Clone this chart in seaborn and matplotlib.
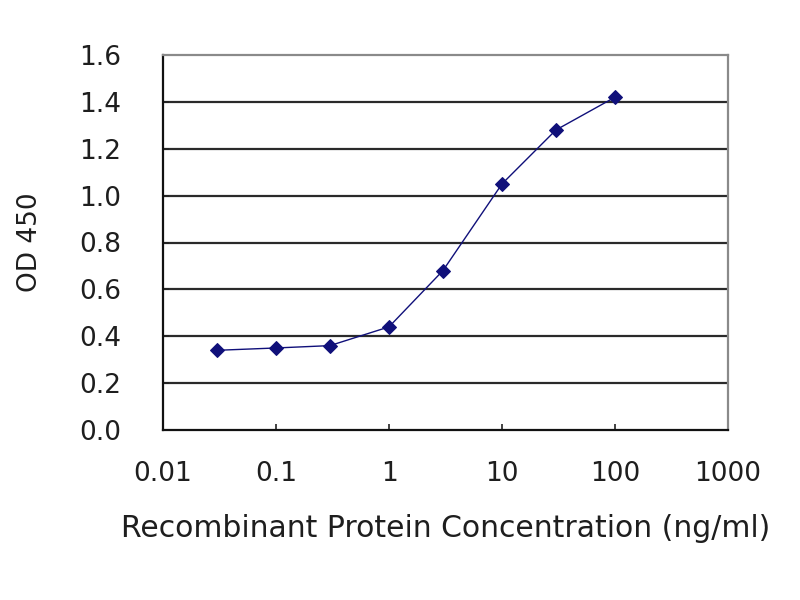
import matplotlib
matplotlib.use("Agg")
import matplotlib.pyplot as plt
import seaborn as sns
import pandas as pd
from matplotlib.ticker import FixedLocator, FixedFormatter, NullLocator

concentration = [0.03, 0.1, 0.3, 1, 3, 10, 30, 100]
od450 = [0.34, 0.35, 0.36, 0.44, 0.68, 1.05, 1.28, 1.42]
x_ticks = [0.01, 0.1, 1, 10, 100, 1000]
x_tick_labels = ["0.01", "0.1", "1", "10", "100", "1000"]
y_ticks = [0.0, 0.2, 0.4, 0.6, 0.8, 1.0, 1.2, 1.4, 1.6]
y_tick_labels = ["0.0", "0.2", "0.4", "0.6", "0.8", "1.0", "1.2", "1.4", "1.6"]

sns.set_theme(style="white")
plt.rcParams['font.family'] = ['DejaVu Sans']

df = pd.DataFrame({"conc": concentration, "od": od450})

fig = plt.figure(figsize=(8, 6), dpi=100)
ax = fig.add_axes([163/800, 1-430/600, (728-163)/800, (430-55)/600])

navy = "#10107a"
sns.lineplot(data=df, x="conc", y="od", ax=ax, color=navy, linewidth=1.0,
             marker="D", markersize=7, markeredgecolor=navy, markerfacecolor=navy)

ax.set_xscale("log")
ax.set_xlim(0.01, 1000)
ax.set_ylim(0, 1.6)

for v in y_ticks[1:-1]:
    ax.axhline(v, color="#2a2a2a", linewidth=1.6, zorder=0)

ax.xaxis.set_major_locator(FixedLocator(x_ticks))
ax.xaxis.set_major_formatter(FixedFormatter(x_tick_labels))
ax.xaxis.set_minor_locator(NullLocator())
ax.yaxis.set_major_locator(FixedLocator(y_ticks))
ax.yaxis.set_major_formatter(FixedFormatter(y_tick_labels))

text_color = "#1e1e1e"
ax.tick_params(axis="x", direction="in", length=4, width=1.2, color="#222222",
               pad=22, labelsize=19, labelcolor=text_color, bottom=True)
ax.tick_params(axis="y", direction="in", length=4, width=1.2, color="#222222",
               pad=30, labelsize=19, labelcolor=text_color, left=True)

for s in ["left", "bottom"]:
    ax.spines[s].set_color("#111111")
    ax.spines[s].set_linewidth(1.6)
for s in ["top", "right"]:
    ax.spines[s].set_color("#8a8a8a")
    ax.spines[s].set_linewidth(1.6)

ax.set_xlabel("Recombinant Protein Concentration (ng/ml)", fontsize=21.5,
              color=text_color, labelpad=20)
ax.set_ylabel("OD 450", fontsize=19, color=text_color, labelpad=26)

fig.savefig("out.png", dpi=100, facecolor="white")
